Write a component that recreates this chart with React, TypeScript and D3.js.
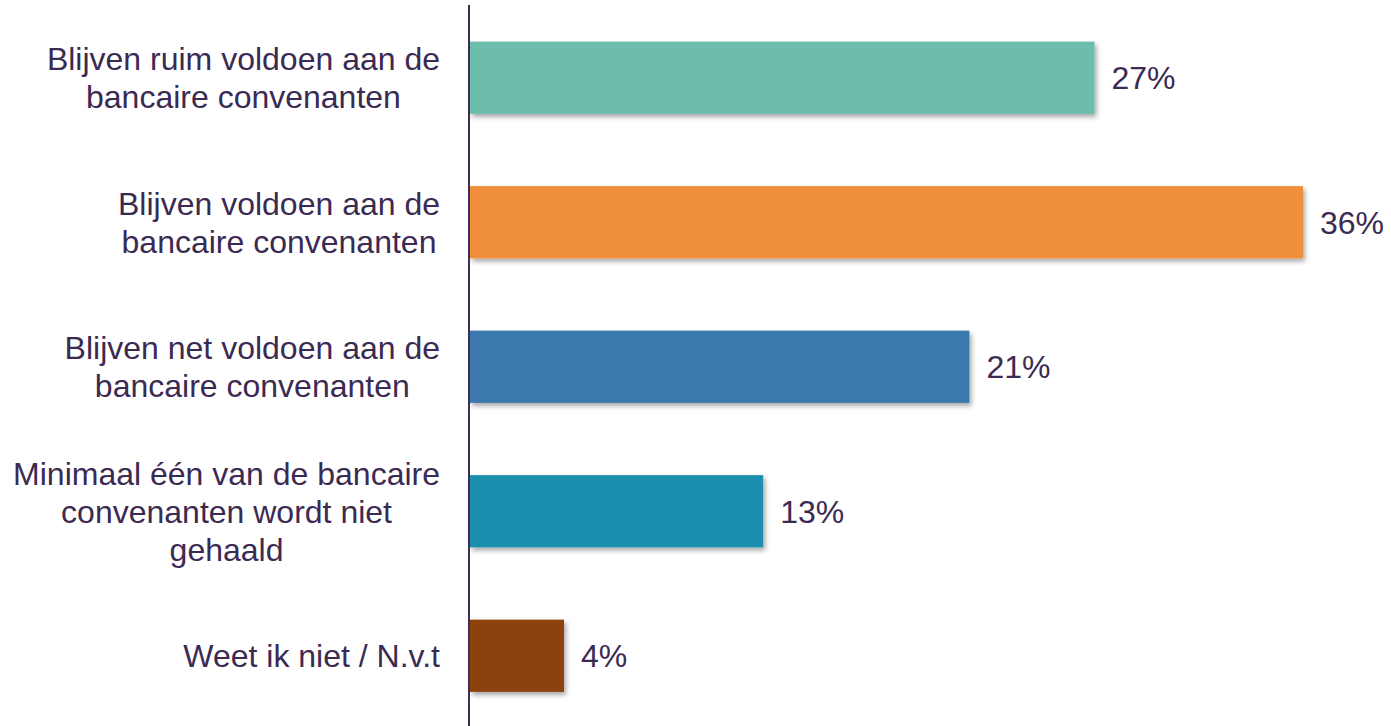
import React, { useEffect, useRef } from "react";
import * as d3 from "d3";

// categories (multi-line labels), printed labels
const categories = [
  ["Blijven ruim voldoen aan de", "bancaire convenanten"],
  ["Blijven voldoen aan de", "bancaire convenanten"],
  ["Blijven net voldoen aan de", "bancaire convenanten"],
  ["Minimaal één van de bancaire", "convenanten wordt niet", "gehaald"],
  ["Weet ik niet / N.v.t"],
];
const values = [27, 36, 21.6, 12.7, 4.1];
const valueLabels = ["27%", "36%", "21%", "13%", "4%"];
const colors = ["#6dbdac", "#f08f3b", "#3b78ae", "#1f8fae", "#8b4309"];

const W = 1391;
const H = 726;
const textColor = "#3b2a52";
const font = "'Liberation Sans', Arial, sans-serif";

const App = () => {
  const svgRef = useRef<SVGSVGElement>(null);

  useEffect(() => {
    const svg = d3.select(svgRef.current);
    svg.selectAll("*").remove();

    const axisX = 469;
    const xScale = d3.scaleLinear().domain([0, 36]).range([axisX, 1303]);
    const yScale = d3
      .scaleBand<number>()
      .domain(d3.range(values.length))
      .range([5.5, 728])
      .paddingInner(0.5)
      .paddingOuter(0.25);

    // drop shadow for the bars
    const defs = svg.append("defs");
    const f = defs
      .append("filter")
      .attr("id", "shadow")
      .attr("x", "-10%")
      .attr("y", "-20%")
      .attr("width", "130%")
      .attr("height", "160%");
    f.append("feDropShadow")
      .attr("dx", 2)
      .attr("dy", 3)
      .attr("stdDeviation", 2.5)
      .attr("flood-color", "#000")
      .attr("flood-opacity", 0.35);

    // bars
    svg
      .selectAll(".bar")
      .data(values)
      .join("rect")
      .attr("class", "bar")
      .attr("x", axisX + 1)
      .attr("y", (_, i) => yScale(i)!)
      .attr("width", (d) => xScale(d) - axisX - 1)
      .attr("height", yScale.bandwidth())
      .attr("fill", (_, i) => colors[i])
      .attr("filter", "url(#shadow)");

    // value labels
    svg
      .selectAll(".val")
      .data(values)
      .join("text")
      .attr("class", "val")
      .attr("x", (d) => xScale(d) + 17)
      .attr("y", (_, i) => yScale(i)! + yScale.bandwidth() / 2)
      .attr("dy", "0.36em")
      .attr("font-family", font)
      .attr("font-size", 32)
      .attr("fill", textColor)
      .text((_, i) => valueLabels[i]);

    // category labels: centred lines, block right-aligned to x=440
    const lineH = 38;
    categories.forEach((lines, i) => {
      const cy = yScale(i)! + yScale.bandwidth() / 2;
      const g = svg.append("g");
      const t = g
        .append("text")
        .attr("text-anchor", "middle")
        .attr("font-family", font)
        .attr("font-size", 32)
        .attr("fill", textColor);
      lines.forEach((line, j) => {
        t.append("tspan")
          .attr("x", 0)
          .attr("y", cy + (j - (lines.length - 1) / 2) * lineH)
          .attr("dy", "0.36em")
          .text(line);
      });
      const bw = (t.node() as SVGTextElement).getBBox().width;
      g.attr("transform", `translate(${440 - bw / 2},0)`);
    });

    // vertical axis line
    svg
      .append("line")
      .attr("x1", axisX)
      .attr("x2", axisX)
      .attr("y1", 5)
      .attr("y2", H)
      .attr("stroke", "#3e2e56")
      .attr("stroke-width", 2);
  }, []);

  return (
    <svg
      ref={svgRef}
      width={W}
      height={H}
      style={{ position: "absolute", left: 0, top: 0, background: "#fff" }}
    ></svg>
  );
};

export default App;
